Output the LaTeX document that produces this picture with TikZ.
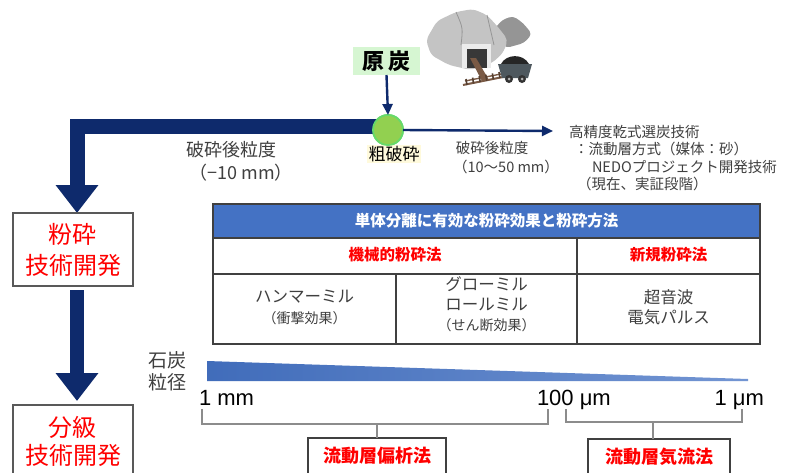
\documentclass[tikz,border=0pt]{standalone}
\usepackage{fontspec}
\setmainfont{Noto Sans CJK JP}
\newfontfamily\latinsans{Liberation Sans}
\usetikzlibrary{arrows.meta,calc}

\definecolor{navy}{HTML}{0E2A6C}
\definecolor{hdrblue}{HTML}{4472C4}
\definecolor{boxgray}{HTML}{595959}
\definecolor{linegray}{HTML}{404040}
\definecolor{txtgray}{HTML}{3F3F3F}
\definecolor{brgray}{HTML}{8C8C8C}
\definecolor{leafgreen}{HTML}{92D050}
\definecolor{ringgreen}{HTML}{66D96A}
\definecolor{palegreen}{HTML}{D6F6D2}
\definecolor{paleyellow}{HTML}{FFFADC}
\definecolor{mtnlight}{HTML}{C4C4C4}
\definecolor{mtndark}{HTML}{959595}
\definecolor{railbrown}{HTML}{7A5A45}
\definecolor{cartgray}{HTML}{4E585E}

\newcommand\fsz[2]{\fontsize{#1}{#2}\selectfont}

\begin{document}
\begin{tikzpicture}[x=1pt,y=-1pt,
  every node/.style={inner sep=0pt,outer sep=0pt},
  bigarrow/.style={draw=navy,line width=15pt,line join=miter,
    -{Triangle[width=41pt,length=28pt]}},
  thinarrow/.style={draw=navy,line width=2.4pt,
    -{Triangle[width=10pt,length=11pt]}},
  devbox/.style={draw=boxgray,line width=1.4pt,minimum width=120pt,
    minimum height=73pt,text=red,align=center},
  note/.style={text=txtgray,font=\fsz{14.5}{17}},
  cellhead/.style={text=red,font=\fsz{15.5}{18}\bfseries},
  cell/.style={text=txtgray,align=center},
  tabline/.style={draw=linegray,line width=1.4pt},
  bracket/.style={draw=brgray,line width=1.2pt},
  methodbox/.style={draw=linegray,line width=1.4pt,text=red,
    font=\fsz{18}{21}\bfseries},
  scalelabel/.style={text=black,font=\latinsans\fsz{22}{25}}
]
\useasboundingbox[fill=white] (0,0) rectangle (790,472);

% ---- coal mine illustration ----
\fill[mtndark,rounded corners=4pt] (492,32) -- (502,20) -- (513,16)
  -- (523,23) -- (532,34) -- (524,43) -- (506,48) -- cycle;
\fill[mtnlight,rounded corners=5pt] (426,40) -- (437,21) -- (456,12)
  -- (473,9) -- (487,15) -- (498,27) -- (508,40) -- (503,53) -- (492,63)
  -- (471,70) -- (449,65) -- (431,55) -- cycle;
\draw[mtndark,line width=0.8pt] (456,12) .. controls (463,28) .. (461,45);
\draw[mtndark,line width=0.8pt] (487,15) .. controls (490,30) .. (494,45);
\fill[white!92!black] (462,44) rectangle (491,68);
\fill[black!78] (467,49) rectangle (487,68);
\fill[railbrown] (470,58) -- (476,58) -- (489,80) -- (482,81) -- cycle;
\draw[railbrown,line width=2pt] (463,85) -- (503,77);
\draw[railbrown,line width=1.4pt] (465,81) -- (501,74);
\foreach \t in {0,0.2,0.4,0.6,0.8,1}
  \draw[railbrown!70!black,line width=1.6pt]
    ($(466,79)!\t!(499,72)$) -- ++(1,6);
\fill[black!85] (501,64) .. controls (506,54) and (523,53) .. (529,64) -- cycle;
\fill[cartgray] (498,64) -- (532,64) -- (528,78) -- (502,78) -- cycle;
\fill[black!80] (509,79) circle (4);
\fill[black!80] (522,79) circle (4);
\fill[gray!60] (509,79) circle (1.5);
\fill[gray!60] (522,79) circle (1.5);

% ---- raw coal and primary crushing ----
\node[fill=palegreen,minimum width=67pt,minimum height=28pt,
  font=\fsz{22}{26}\bfseries] (genko) at (386.5,61) {原\hspace{5pt}炭};
\node[circle,fill=leafgreen,draw=ringgreen,line width=1.8pt,
  minimum size=30pt] (cc) at (388,130) {};
\node[fill=paleyellow,inner sep=1.5pt,font=\fsz{17}{20}] (sohasai)
  at (394,154) {粗破砕};

\coordinate (coarseout) at (553,131);
\draw[bigarrow] ([yshift=3.5pt]cc.center) -| ([xshift=4pt]73,213);
\node[circle,fill=leafgreen,draw=ringgreen,line width=1.8pt,
  minimum size=30pt] at (cc.center) {};
\draw[thinarrow] (genko.south) -- (cc.north);
\draw[thinarrow] (cc.east) -- (coarseout);

% ---- particle size notes ----
\node[text=txtgray,font=\fsz{18}{21}] (leftsz1) at (231,150) {破砕後粒度};
\node[text=txtgray,font=\fsz{18}{21}] (leftsz2) at (241,173) {（−10 mm）};
\node[note] (rightsz1) at (492,148) {破砕後粒度};
\node[note] (rightsz2) at (506,167) {（10〜50 mm）};

\node[note,anchor=west] (dry1) at (569,132) {高精度乾式選炭技術};
\node[note,anchor=west] (dry2) at (574,149) {：流動層方式（媒体：砂）};
\node[note,anchor=west] (dry3) at (592,167) {NEDOプロジェクト開発技術};
\node[note,anchor=west] (dry4) at (577,184) {（現在、実証段階）};

% ---- development boxes ----
\node[devbox,font=\fsz{24}{31}] (box1) at (73,249.5) {粉砕\\技術開発};
\node[devbox,font=\fsz{24}{28}] (box2) at (73,441.5) {分級\\技術開発};
\draw[bigarrow,line width=14pt]
  ([xshift=4pt,yshift=-4pt]box1.south) -- ([xshift=4pt,yshift=4pt]box2.north);

% ---- table of crushing methods ----
\fill[hdrblue] (213,204) rectangle (760,238);
\draw[tabline] (213,204) rectangle (760,344);
\draw[tabline] (213,238) -- (760,238);
\draw[tabline] (213,274) -- (760,274);
\draw[tabline] (577,238) -- (577,344);
\draw[tabline] (396,274) -- (396,344);

\node[text=white,font=\fsz{15.5}{18}\bfseries] (thead) at (486.5,221)
  {単体分離に有効な粉砕効果と粉砕方法};
\node[cellhead] (mech) at (395,255) {機械的粉砕法};
\node[cellhead] (novel) at (668.5,255) {新規粉砕法};

\node[cell,font=\fsz{16.5}{19}] (hammer1) at (304.5,297) {ハンマーミル};
\node[cell,font=\fsz{14}{17}] (hammer2) at (304.5,318) {（衝撃効果）};
\node[cell,font=\fsz{16.5}{19}] (roll1) at (486.5,284) {グローミル};
\node[cell,font=\fsz{16.5}{19}] (roll2) at (486.5,304) {ロールミル};
\node[cell,font=\fsz{14}{17}] (roll3) at (486.5,325) {（せん断効果）};
\node[cell,font=\fsz{16.5}{19}] (new1) at (668.5,297) {超音波};
\node[cell,font=\fsz{16.5}{19}] (new2) at (668.5,317) {電気パルス};

% ---- coal particle size scale ----
\node[text=txtgray,font=\fsz{19}{22}] (coal1) at (167,360) {石炭};
\node[text=txtgray,font=\fsz{19}{22}] (coal2) at (167,382) {粒径};
\shade[left color=hdrblue!95!black,right color=hdrblue!75!white]
  (207,361) -- (748,379) -- (748,381) -- (207,381) -- cycle;

\node[scalelabel,anchor=west] (mm1) at (199,398) {1 mm};
\node[scalelabel,anchor=west] (um100) at (537,400) {100 μm};
\node[scalelabel,anchor=east] (um1) at (764,400) {1 μm};

% ---- separation methods ----
\node[methodbox,minimum width=138pt,minimum height=36pt] (segr)
  at (377,456) {流動層偏析法};
\node[methodbox,minimum width=142pt,minimum height=36pt] (airf)
  at (659,457) {流動層気流法};

\coordinate (brA) at (377,424);
\coordinate (brB) at (653,422);
\draw[bracket] (202,409) |- (548,424) -- (548,409);
\draw[bracket] (brA) -- (segr.north);
\draw[bracket] (566,409) |- (742,422) -- (742,409);
\draw[bracket] (brB) -- (brB |- airf.north);
\end{tikzpicture}
\end{document}
